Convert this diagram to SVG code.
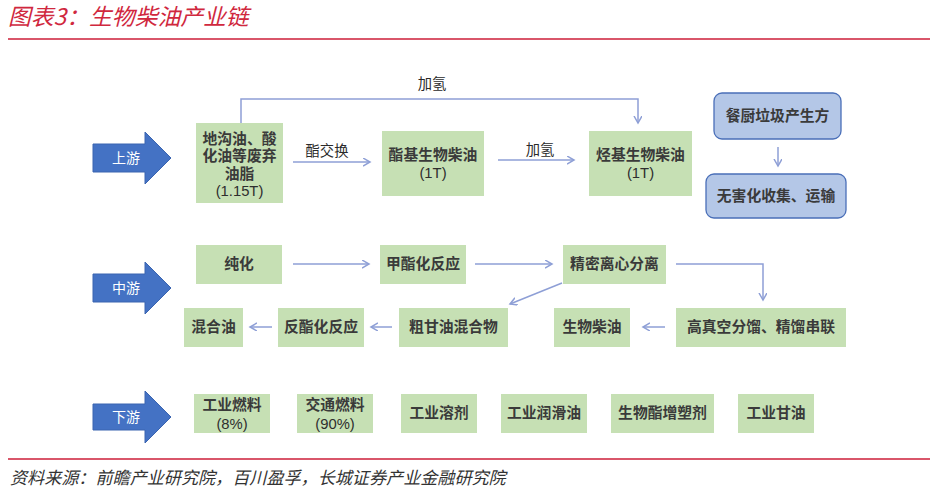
<svg xmlns="http://www.w3.org/2000/svg" width="933" height="495" viewBox="0 0 933 495">
<style>
.title{font-family:"Noto Sans CJK SC",sans-serif;font-size:22.8px;font-style:italic;fill:#d0283e;}
.src{font-family:"Noto Sans CJK SC",sans-serif;font-size:17.1px;font-style:italic;fill:#333;}
.rule{stroke:#d9566a;stroke-width:2;}
.g{fill:#c6e0b4;}
.b{fill:#b4c7e7;stroke:#4a6fb8;stroke-width:1.3;}
.t{font-family:"Liberation Sans","Noto Sans CJK SC",sans-serif;font-size:14.8px;font-weight:bold;fill:#3a3a3a;text-anchor:middle;}
.n{font-weight:normal;fill:#2e2e2e;}
.lab{font-family:"Noto Sans CJK SC",sans-serif;font-size:14.3px;fill:#2a2a2a;text-anchor:middle;}
.ar{fill:#4472c4;stroke:#3a64b0;stroke-width:1;}
.at{font-family:"Noto Sans CJK SC",sans-serif;font-size:14px;fill:#fff;text-anchor:middle;}
.c{fill:none;stroke:#8e9fd6;stroke-width:1.5;marker-end:url(#ah);}
</style>
<defs>
<marker id="ah" markerWidth="10" markerHeight="10" refX="7" refY="4" orient="auto" markerUnits="userSpaceOnUse">
<path d="M0,0 L7,4 L0,8" fill="none" stroke="#8e9fd6" stroke-width="1.5"/>
</marker>
</defs>
<rect width="933" height="495" fill="#fff"/>
<text class="title" x="8" y="25">图表3：生物柴油产业链</text>
<line class="rule" x1="8" y1="39" x2="930" y2="39"/>

<g id="arrow-up">
<polygon class="ar" points="93,144 145,144 145,132 171,158 145,184 145,172 93,172"/>
<text class="at" x="126" y="163">上游</text>
</g>
<g id="arrow-mid">
<polygon class="ar" points="93,274 145,274 145,262 171,288 145,314 145,302 93,302"/>
<text class="at" x="126" y="293">中游</text>
</g>
<g id="arrow-down">
<polygon class="ar" points="93,404 145,404 145,391 171,417 145,443 145,430 93,430"/>
<text class="at" x="126" y="422">下游</text>
</g>

<g id="n-waste-oil">
<rect class="g" x="196" y="123" width="87" height="80"/>
<text class="t" x="239.5" y="143.5">地沟油、酸</text>
<text class="t" x="239.5" y="161">化油等废弃</text>
<text class="t" x="239.5" y="178.5">油脂</text>
<text class="t n" x="239.5" y="196">(1.15T)</text>
</g>
<g id="n-ester-diesel">
<rect class="g" x="382" y="131" width="102" height="65"/>
<text class="t" x="433" y="160">酯基生物柴油</text>
<text class="t n" x="433" y="178">(1T)</text>
</g>
<g id="n-hydro-diesel">
<rect class="g" x="589" y="131" width="103" height="65"/>
<text class="t" x="640.5" y="160">烃基生物柴油</text>
<text class="t n" x="640.5" y="178">(1T)</text>
</g>
<g id="n-kitchen">
<rect class="b" x="714" y="93" width="127" height="46" rx="8"/>
<text class="t" x="777.5" y="121">餐厨垃圾产生方</text>
</g>
<g id="n-collect">
<rect class="b" x="706" y="174" width="140" height="44" rx="8"/>
<text class="t" x="776" y="201">无害化收集、运输</text>
</g>

<g id="n-purify"><rect class="g" x="196" y="245" width="86" height="39"/><text class="t" x="239" y="269">纯化</text></g>
<g id="n-methyl"><rect class="g" x="380" y="245" width="86" height="39"/><text class="t" x="423" y="269">甲酯化反应</text></g>
<g id="n-centrifuge"><rect class="g" x="563" y="245" width="103" height="39"/><text class="t" x="614.5" y="269">精密离心分离</text></g>
<g id="n-distill"><rect class="g" x="676" y="308" width="170" height="39"/><text class="t" x="761" y="332">高真空分馏、精馏串联</text></g>
<g id="n-biodiesel"><rect class="g" x="554" y="308" width="76" height="39"/><text class="t" x="592" y="332">生物柴油</text></g>
<g id="n-crude"><rect class="g" x="399" y="308" width="109" height="39"/><text class="t" x="453.5" y="332">粗甘油混合物</text></g>
<g id="n-reverse"><rect class="g" x="278" y="308" width="86" height="39"/><text class="t" x="321" y="332">反酯化反应</text></g>
<g id="n-mixed"><rect class="g" x="184" y="308" width="59" height="39"/><text class="t" x="213.5" y="332">混合油</text></g>

<g id="n-ind-fuel"><rect class="g" x="194" y="394" width="76" height="39"/><text class="t" x="232" y="410">工业燃料</text><text class="t n" x="232" y="429">(8%)</text></g>
<g id="n-trans-fuel"><rect class="g" x="297" y="394" width="76" height="39"/><text class="t" x="335" y="410">交通燃料</text><text class="t n" x="335" y="429">(90%)</text></g>
<g id="n-solvent"><rect class="g" x="401" y="394" width="76" height="39"/><text class="t" x="439" y="418">工业溶剂</text></g>
<g id="n-lube"><rect class="g" x="501" y="394" width="86" height="39"/><text class="t" x="544" y="418">工业润滑油</text></g>
<g id="n-plasticizer"><rect class="g" x="611" y="394" width="103" height="39"/><text class="t" x="662.5" y="418">生物酯增塑剂</text></g>
<g id="n-glycerin"><rect class="g" x="738" y="394" width="76" height="39"/><text class="t" x="776" y="418">工业甘油</text></g>

<g id="connectors">
<polyline class="c" points="241,123 241,99 638,99 638,123"/>
<text class="lab" x="432" y="89">加氢</text>
<line class="c" x1="293" y1="162" x2="370" y2="162"/>
<text class="lab" x="327" y="156">酯交换</text>
<line class="c" x1="498" y1="160" x2="574" y2="160"/>
<text class="lab" x="540" y="155">加氢</text>
<line class="c" x1="778" y1="147" x2="778" y2="166"/>
<line class="c" x1="293" y1="264" x2="369" y2="264"/>
<line class="c" x1="475" y1="264" x2="552" y2="264"/>
<polyline class="c" points="676,264 763,264 763,300"/>
<line class="c" x1="665" y1="327" x2="643" y2="327"/>
<line class="c" x1="562" y1="283" x2="510" y2="304"/>
<line class="c" x1="392" y1="327" x2="371" y2="327"/>
<line class="c" x1="272" y1="327" x2="250" y2="327"/>
</g>

<line class="rule" x1="8" y1="459" x2="930" y2="459"/>
<text class="src" x="10" y="484">资料来源：前瞻产业研究院，百川盈孚，长城证券产业金融研究院</text>
</svg>
